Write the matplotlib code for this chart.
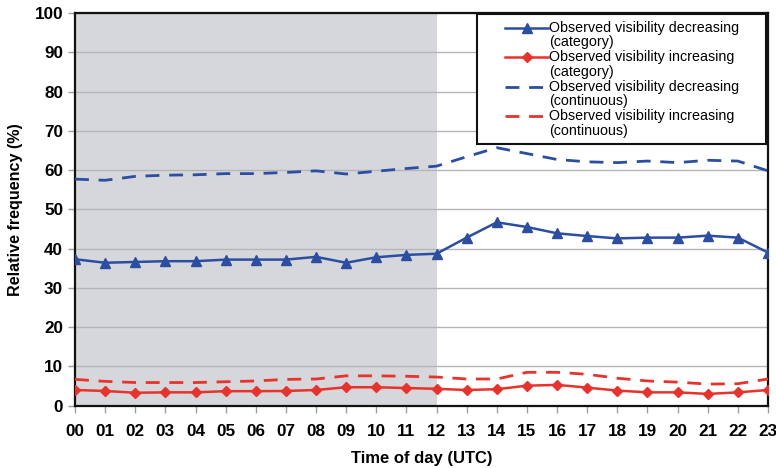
import numpy as np
import matplotlib.pyplot as plt
from matplotlib.lines import Line2D
from matplotlib.legend_handler import HandlerLine2D

plt.rcParams['font.family'] = ['Liberation Sans', 'DejaVu Sans']

hours = ['00', '01', '02', '03', '04', '05', '06', '07', '08', '09', '10', '11',
         '12', '13', '14', '15', '16', '17', '18', '19', '20', '21', '22', '23']

# Relative frequency (%) per hour of day
dec_category = [37.3, 36.4, 36.6, 36.8, 36.8, 37.2, 37.2, 37.2, 37.9, 36.4, 37.8, 38.4,
                38.7, 42.8, 46.7, 45.5, 43.9, 43.2, 42.6, 42.8, 42.8, 43.3, 42.8, 39.0]
inc_category = [4.0, 3.75, 3.3, 3.4, 3.4, 3.7, 3.7, 3.75, 4.0, 4.7, 4.7, 4.5,
                4.3, 4.0, 4.2, 5.1, 5.3, 4.6, 3.85, 3.4, 3.4, 3.0, 3.4, 4.0]
dec_continuous = [57.7, 57.4, 58.4, 58.7, 58.8, 59.1, 59.1, 59.4, 59.8, 59.0, 59.7, 60.4,
                  61.0, 63.4, 65.7, 64.2, 62.7, 62.1, 61.9, 62.3, 61.9, 62.5, 62.3, 59.8]
inc_continuous = [6.7, 6.2, 5.9, 5.9, 5.9, 6.1, 6.3, 6.7, 6.8, 7.6, 7.6, 7.5,
                  7.3, 6.8, 6.8, 8.5, 8.5, 8.0, 7.0, 6.3, 6.0, 5.5, 5.6, 6.8]

night_end = 12

blue = '#2b4ea3'
red = '#e8322b'


class FirstLineHandler(HandlerLine2D):
    # put the legend line next to the first row of a two-row label
    def __init__(self, yshift=0, **kw):
        super().__init__(**kw)
        self.yshift = yshift

    def create_artists(self, *args, **kw):
        artists = super().create_artists(*args, **kw)
        for a in artists:
            a.set_ydata(np.asarray(a.get_ydata()) + self.yshift)
        return artists


fig = plt.figure(figsize=(7.76, 4.68), dpi=100)
ax = fig.add_axes([75/776, 1 - 405.7/468, 693/776, 392.7/468])

x = np.arange(len(hours))

# shaded half of the day
ax.axvspan(0, night_end, color='#d5d7da', zorder=0, lw=0)

ax.plot(x, dec_category, color=blue, lw=1.8, marker='^', markersize=7,
        label='Observed visibility decreasing\n(category)', zorder=4)
ax.plot(x, inc_category, color=red, lw=1.8, marker='D', markersize=5.5,
        label='Observed visibility increasing\n(category)', zorder=4)
ax.plot(x, dec_continuous, color=blue, lw=2.0, dashes=(5, 3.5),
        label='Observed visibility decreasing\n(continuous)', zorder=3)
ax.plot(x, inc_continuous, color=red, lw=2.0, dashes=(5, 3.5),
        label='Observed visibility increasing\n(continuous)', zorder=3)

ax.set_xlim(0, len(hours) - 1)
ax.set_ylim(0, 100)
ax.set_yticks(np.arange(0, 101, 10))
ax.set_xticks(x)
ax.set_xticklabels(hours)
ax.grid(axis='y', color='#b4b6b9', lw=1.0, zorder=1)
ax.set_axisbelow(True)

for lbl in ax.get_xticklabels() + ax.get_yticklabels():
    lbl.set_fontweight('bold')
    lbl.set_fontsize(12.3)
ax.tick_params(axis='both', direction='out', length=5, color='#a0a0a0', width=1)
ax.tick_params(axis='x', pad=8)

for side in ['top', 'right', 'left', 'bottom']:
    ax.spines[side].set_color('#111111')
    ax.spines[side].set_linewidth(1.6)

ax.set_xlabel('Time of day (UTC)', fontsize=12, fontweight='bold', labelpad=9)
ax.set_ylabel('Relative frequency (%)', fontsize=11.6, fontweight='bold', labelpad=8)

leg = ax.legend(loc='upper left', bbox_to_anchor=(0.580, 0.5, 0.417, 0.497),
                mode='expand', fontsize=10.3,
                frameon=True, fancybox=False, framealpha=1, edgecolor='#111111',
                labelspacing=0.05, handlelength=4.52, handletextpad=0.05,
                borderpad=0.45, borderaxespad=0,
                handler_map={Line2D: FirstLineHandler(yshift=5.6, xpad=1.51)})
leg.get_frame().set_linewidth(1.5)
for t in leg.get_texts():
    t.set_linespacing(1.07)
leg.set_zorder(10)

fig.savefig('out.png', dpi=100)
